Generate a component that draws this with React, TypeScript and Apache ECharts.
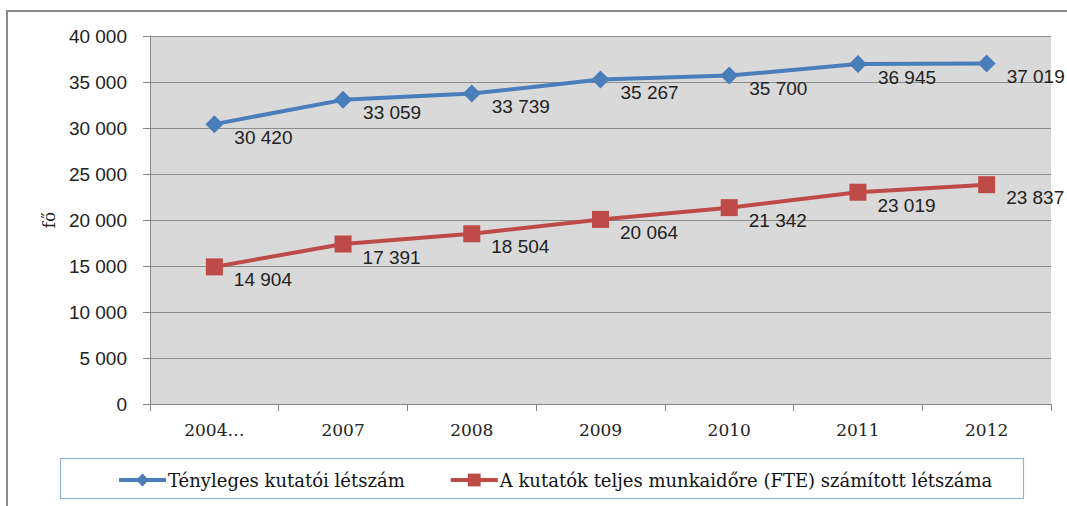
import React, { useEffect, useRef } from "react";
import * as echarts from "echarts";

const categories = ["2004…", "2007", "2008", "2009", "2010", "2011", "2012"];
const actualHeadcount = [30420, 33059, 33739, 35267, 35700, 36945, 37019];
const fteHeadcount = [14904, 17391, 18504, 20064, 21342, 23019, 23837];
const seriesNames = ["Tényleges kutatói létszám", "A kutatók teljes munkaidőre (FTE) számított létszáma"];
const yAxisName = "fő";

const fmt = (v: number) => {
  const s = String(Math.round(v));
  return s.replace(/\B(?=(\d{3})+(?!\d))/g, " ");
};

export default function App() {
  const ref = useRef<HTMLDivElement>(null);
  useEffect(() => {
    if (!ref.current) return;
    const chart = echarts.init(ref.current, null, { renderer: "svg" });
    const labelStyle = {
      show: true,
      position: "right" as const,
      distance: 5,
      offset: [6, 13],
      fontFamily: "Liberation Sans, Arial, sans-serif",
      fontSize: 19,
      color: "#222",
      formatter: (p: any) => fmt(p.value),
    };
    chart.setOption({
      animation: false,
      backgroundColor: "#ffffff",
      grid: { left: 150, top: 36, right: 16, bottom: 102, show: true, backgroundColor: "#d9d9d9", borderWidth: 0 },
      graphic: [
        {
          type: "rect",
          shape: { x: 7, y: 11, width: 1080, height: 520 },
          style: { fill: "none", stroke: "#8a8a8a", lineWidth: 2 },
          silent: true,
          z: -1,
        },
        {
          type: "rect",
          shape: { x: 60.5, y: 458.5, width: 963, height: 40 },
          style: { fill: "#ffffff", stroke: "#8eb1dd", lineWidth: 1.2 },
          silent: true,
          z: 0,
        },
      ],
      legend: {
        left: 112,
        top: 466,
        itemWidth: 47,
        itemHeight: 16,
        itemGap: 44,
        lineStyle: { width: 4 },
        textStyle: { fontFamily: "DejaVu Serif, serif", fontSize: 18, color: "#111", padding: [0, 0, 0, -3] },
        z: 5,
      },
      xAxis: {
        type: "category",
        data: categories,
        boundaryGap: true,
        axisLine: { lineStyle: { color: "#868686", width: 1 } },
        axisTick: { show: true, length: 7, lineStyle: { color: "#868686" } },
        axisLabel: { margin: 17, fontFamily: "DejaVu Serif, serif", fontSize: 17, color: "#222" },
      },
      yAxis: {
        type: "value",
        min: 0,
        max: 40000,
        interval: 5000,
        name: yAxisName,
        nameLocation: "middle",
        nameGap: 88,
        nameRotate: 90,
        nameTextStyle: { fontFamily: "DejaVu Serif, serif", fontSize: 17, color: "#222" },
        axisLine: { show: true, lineStyle: { color: "#868686", width: 1 } },
        axisTick: { show: true, length: 7, lineStyle: { color: "#868686" } },
        axisLabel: {
          margin: 23,
          fontFamily: "Liberation Sans, Arial, sans-serif",
          fontSize: 19,
          color: "#222",
          formatter: (v: number) => fmt(v),
        },
        splitLine: { show: true, lineStyle: { color: "#8c8c8c", width: 1 } },
      },
      series: [
        {
          name: seriesNames[0],
          type: "line",
          data: actualHeadcount,
          symbol: "diamond",
          symbolSize: 18,
          lineStyle: { color: "#4a7ebb", width: 4 },
          itemStyle: { color: "#4a7ebb" },
          label: labelStyle,
          z: 3,
        },
        {
          name: seriesNames[1],
          type: "line",
          data: fteHeadcount,
          symbol: "rect",
          symbolSize: 17,
          lineStyle: { color: "#be4b48", width: 4 },
          itemStyle: { color: "#be4b48" },
          label: labelStyle,
          z: 3,
        },
      ],
    });
    return () => chart.dispose();
  }, []);
  return <div ref={ref} style={{ position: "fixed", left: 0, top: 0, width: 1067, height: 506 }} />;
}
